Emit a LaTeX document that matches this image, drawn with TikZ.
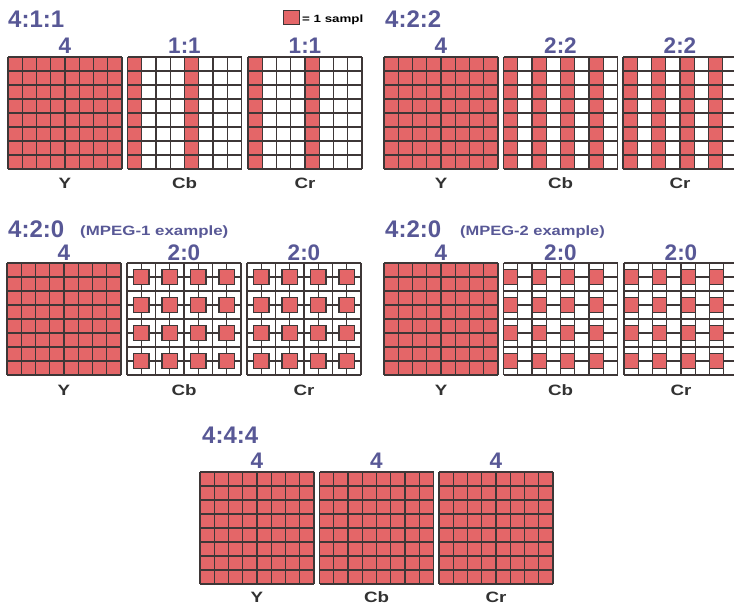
\documentclass[tikz,border=0pt]{standalone}
\usepackage{fontspec}
\setmainfont{Liberation Sans}
\definecolor{sred}{RGB}{228,102,104}
\definecolor{gline}{RGB}{62,55,55}
\definecolor{tblue}{RGB}{88,88,150}
\definecolor{lgray}{RGB}{50,50,50}
\tikzset{
  gridline/.style={draw=gline, line width=1.4pt},
  chroma/.style={fill=sred, draw=gline, line width=1.3pt},
  ttl/.style={font=\bfseries\fontsize{24}{24}\selectfont, text=tblue, inner sep=0pt, anchor=base west},
  num/.style={font=\bfseries\fontsize{22.5}{22.5}\selectfont, text=tblue, inner sep=0pt, anchor=base},
  lab/.style={font=\bfseries\fontsize{15}{15}\selectfont, text=lgray, inner sep=0pt, anchor=base},
  sub/.style={font=\bfseries\fontsize{13.5}{13.5}\selectfont, text=tblue, inner sep=0pt, anchor=base west},
  leg/.style={font=\bfseries\fontsize{10.5}{10.5}\selectfont, text=black, inner sep=0pt, anchor=base west},
}
% #1 x, #2 y, #3 fill code drawn under the grid, #4 code drawn over the grid
\newcommand{\sgrid}[4]{%
  \begin{scope}[shift={(#1,#2)}]
  \begin{scope}[x=14.25pt,y=-14pt]
    \fill[white] (0,0) rectangle (8,8);
    #3
    \foreach \i in {0,...,8}{
      \draw[gridline] (\i,0) -- (\i,8);
      \draw[gridline] (0,\i) -- (8,\i);
    }
    #4
  \end{scope}
  \end{scope}}
\newcommand{\fullred}{\fill[sred] (0,0) rectangle (8,8);}
\newcommand{\colsred}[1]{\foreach \c in {#1}{\fill[sred] (\c,0) rectangle (\c+1,8);}}
\newcommand{\mpgone}{\foreach \c in {1,3,5,7}{\foreach \r in {1,3,5,7}{\draw[chroma] (\c-0.54,\r-0.55) rectangle (\c+0.54,\r+0.55);}}}
\newcommand{\mpgtwo}{\foreach \c in {0,2,4,6}{\foreach \r in {1,3,5,7}{\draw[chroma] (\c,\r-0.54) rectangle (\c+1,\r+0.54);}}}
\begin{document}
\begin{tikzpicture}[x=1pt,y=-1pt]
\useasboundingbox (0,0) rectangle (734,606);
\clip (0,0) rectangle (734,606);
\fill[white] (0,0) rectangle (734,606);

% ---------- 4:1:1 ----------
\node[ttl] (t411) at (8,27) {4:1:1};
\draw[chroma, line width=0.9pt] (283,10) rectangle (299,24);
\node[leg] (legend) at (302,22) {\scalebox{1.27}[1]{= 1 sampl}};
\sgrid{8}{57}{\fullred}{}
\sgrid{127.5}{57}{\colsred{0,4}}{}
\sgrid{248}{57}{\colsred{0,4}}{}
\node[num] (n411a) at (65,53) {4};
\node[num] (n411b) at (184.5,53) {1:1};
\node[num] (n411c) at (305,53) {1:1};
\node[lab] (l411a) at (65,188) {\scalebox{1.25}[1]{Y}};
\node[lab] (l411b) at (184.5,188) {\scalebox{1.25}[1]{Cb}};
\node[lab] (l411c) at (305,188) {\scalebox{1.25}[1]{Cr}};

% ---------- 4:2:2 ----------
\node[ttl] (t422) at (385,27) {4:2:2};
\sgrid{384}{57}{\fullred}{}
\sgrid{503.5}{57}{\colsred{0,2,4,6}}{}
\sgrid{623}{57}{\colsred{0,2,4,6}}{}
\node[num] (n422a) at (441,53) {4};
\node[num] (n422b) at (560.5,53) {2:2};
\node[num] (n422c) at (680,53) {2:2};
\node[lab] (l422a) at (441,188) {\scalebox{1.25}[1]{Y}};
\node[lab] (l422b) at (560.5,188) {\scalebox{1.25}[1]{Cb}};
\node[lab] (l422c) at (680,188) {\scalebox{1.25}[1]{Cr}};

% ---------- 4:2:0 MPEG-1 ----------
\node[ttl] (t420a) at (8,237) {4:2:0};
\node[sub] (s420a) at (80,235) {\scalebox{1.25}[1]{(MPEG-1 example)}};
\sgrid{7}{263}{\fullred}{}
\sgrid{127}{263}{}{\mpgone}
\sgrid{247}{263}{}{\mpgone}
\node[num] (n420a) at (64,260) {4};
\node[num] (n420b) at (184,260) {2:0};
\node[num] (n420c) at (304,260) {2:0};
\node[lab] (l420a) at (64,395) {\scalebox{1.25}[1]{Y}};
\node[lab] (l420b) at (184,395) {\scalebox{1.25}[1]{Cb}};
\node[lab] (l420c) at (304,395) {\scalebox{1.25}[1]{Cr}};

% ---------- 4:2:0 MPEG-2 ----------
\node[ttl] (t420b) at (385,237) {4:2:0};
\node[sub] (s420b) at (460,235) {\scalebox{1.22}[1]{(MPEG-2 example)}};
\sgrid{384}{263}{\fullred}{}
\sgrid{503.5}{263}{}{\mpgtwo}
\sgrid{624}{263}{}{\mpgtwo}
\node[num] (n420d) at (441,260) {4};
\node[num] (n420e) at (560.5,260) {2:0};
\node[num] (n420f) at (681,260) {2:0};
\node[lab] (l420d) at (441,395) {\scalebox{1.25}[1]{Y}};
\node[lab] (l420e) at (560.5,395) {\scalebox{1.25}[1]{Cb}};
\node[lab] (l420f) at (681,395) {\scalebox{1.25}[1]{Cr}};

% ---------- 4:4:4 ----------
\node[ttl] (t444) at (202,443) {4:4:4};
\sgrid{200}{472}{\fullred}{}
\sgrid{319.5}{472}{\fullred}{}
\sgrid{439}{472}{\fullred}{}
\node[num] (n444a) at (257,468) {4};
\node[num] (n444b) at (376.5,468) {4};
\node[num] (n444c) at (496,468) {4};
\node[lab] (l444a) at (257,602) {\scalebox{1.25}[1]{Y}};
\node[lab] (l444b) at (376.5,602) {\scalebox{1.25}[1]{Cb}};
\node[lab] (l444c) at (496,602) {\scalebox{1.25}[1]{Cr}};
\end{tikzpicture}
\end{document}
